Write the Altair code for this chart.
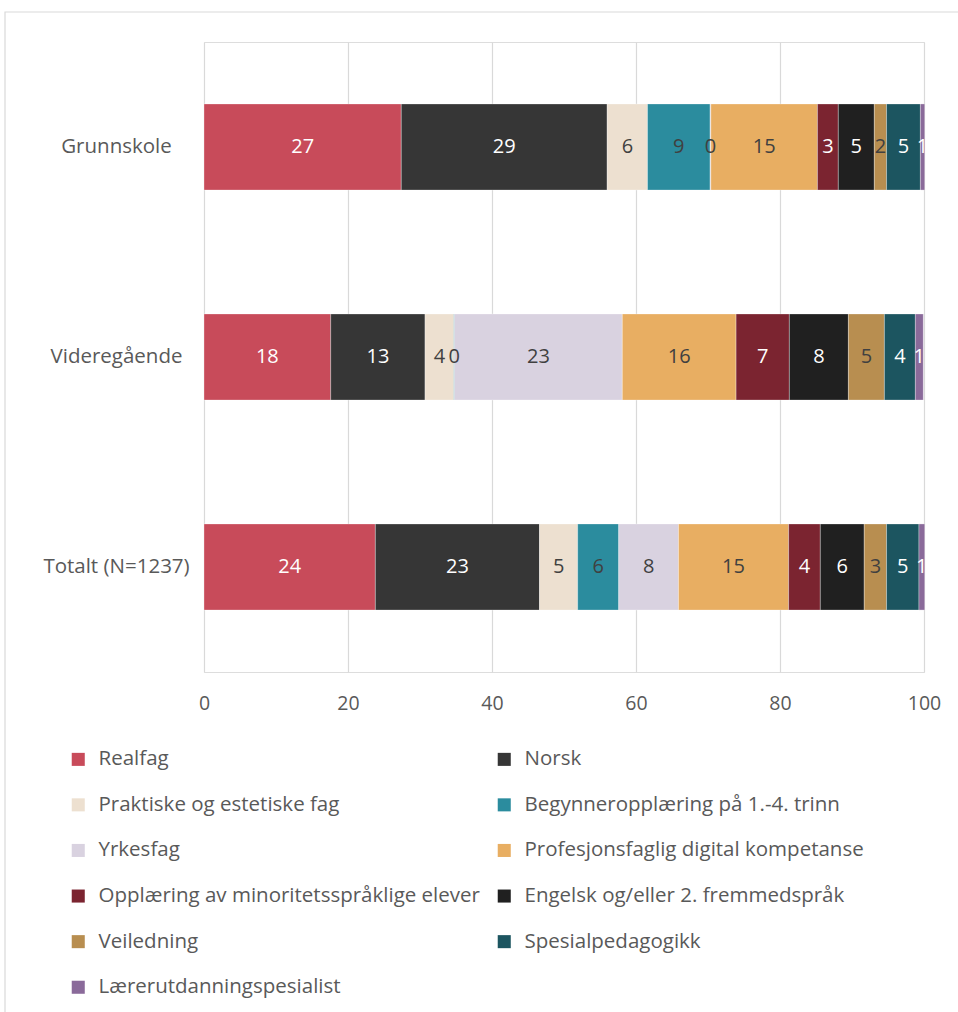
import altair as alt
import pandas as pd

groups = ["Grunnskole", "Videregående", "Totalt (N=1237)"]
series = [
    "Realfag", "Norsk", "Praktiske og estetiske fag", "Begynneropplæring på 1.-4. trinn",
    "Yrkesfag", "Profesjonsfaglig digital kompetanse", "Opplæring av minoritetsspråklige elever",
    "Engelsk og/eller 2. fremmedspråk", "Veiledning", "Spesialpedagogikk", "Lærerutdanningspesialist",
]
grunnskole = [27.4, 28.6, 5.6, 8.7, 0.1, 14.8, 2.9, 5.0, 1.7, 4.7, 0.6]
videregaende = [17.6, 13.1, 4.0, 0.1, 23.3, 15.8, 7.4, 8.2, 5.0, 4.3, 1.1]
totalt = [23.8, 22.8, 5.3, 5.7, 8.3, 15.3, 4.4, 6.1, 3.1, 4.5, 0.8]
colors = ["#C84B5A", "#363636", "#EDE0D0", "#2B8C9E", "#D9D2E0", "#E8AE62",
          "#7B2430", "#202020", "#B88E50", "#1C5560", "#8A6A9A"]
label_colors = ["white", "white", "#404040", "#404040", "#404040", "#404040",
                "white", "white", "#404040", "white", "white"]
x_ticks = [0, 20, 40, 60, 80, 100]

rows = []
for g, vals in zip(groups, [grunnskole, videregaende, totalt]):
    for i, (s, v) in enumerate(zip(series, vals)):
        rows.append({"group": g, "series": s, "value": v, "order": i, "lc": label_colors[i]})
df = pd.DataFrame(rows)

FONT = "Open Sans"
GRAY = "#595959"

base = alt.Chart(df).transform_stack(
    stack="value", groupby=["group"], as_=["v0", "v1"],
    sort=[alt.SortField("order", order="ascending")],
).transform_calculate(mid="(datum.v0 + datum.v1) / 2")

yenc = alt.Y("group:N", sort=groups, title=None,
             scale=alt.Scale(paddingInner=0.59, paddingOuter=0.295),
             axis=alt.Axis(labelFont=FONT, labelFontSize=20.5, labelColor=GRAY,
                           labelAlign="center", labelPadding=88, ticks=False,
                           domain=False, grid=False))

bars = base.mark_bar(stroke="white", strokeWidth=0.5, strokeOpacity=0.6).encode(
    x=alt.X("v0:Q", scale=alt.Scale(domain=[0, 100], nice=False), title=None,
            axis=alt.Axis(values=x_ticks, labelFont=FONT, labelFontSize=19.5,
                          labelColor=GRAY, labelPadding=22, ticks=False, domain=False,
                          labelFlush=False,
                          grid=True, gridColor="#d9d9d9", gridWidth=1.2)),
    x2="v1:Q",
    y=yenc,
    color=alt.Color("series:N", sort=series, title=None,
                    scale=alt.Scale(domain=series, range=colors),
                    legend=alt.Legend(orient="none", legendX=-136, legendY=707,
                                      columns=2, direction="horizontal",
                                      columnPadding=14, rowPadding=24.6,
                                      symbolType="square", symbolSize=170,
                                      symbolStrokeWidth=0, labelOffset=10,
                                      labelFont=FONT, labelFontSize=20.5,
                                      labelColor=GRAY, labelLimit=500)),
    order=alt.Order("order:Q"),
)

labels = base.mark_text(font=FONT, fontSize=20, baseline="middle", align="center").encode(
    x=alt.X("mid:Q"),
    y=alt.Y("group:N", sort=groups),
    text=alt.Text("value:Q", format=".0f"),
    color=alt.Color("lc:N", scale=None),
)

border = alt.Chart(pd.DataFrame({"a": [0]})).mark_rect(
    fill=None, stroke="#d9d9d9", strokeWidth=1.2
).encode(x=alt.value(-199), x2=alt.value(780), y=alt.value(-30), y2=alt.value(1000))

chart = alt.layer(border, bars, labels).properties(
    width=720, height=630,
    padding={"left": 204, "top": 42, "right": 34, "bottom": 340},
    autosize=alt.AutoSizeParams(type="none"),
).configure_view(stroke=None).configure(background="white")

chart.save("out.html", embed_options={"renderer": "svg", "actions": False})
